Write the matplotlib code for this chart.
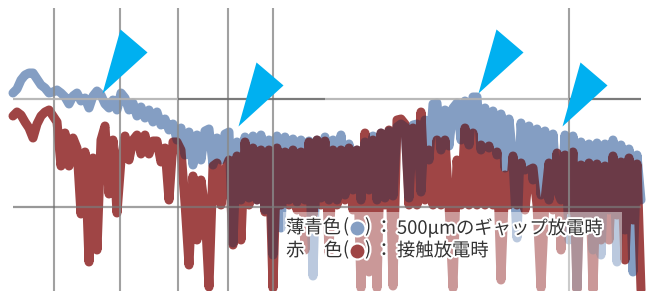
import numpy as np
import matplotlib
matplotlib.use("Agg")
import matplotlib.pyplot as plt
from matplotlib.path import Path
from matplotlib.patches import Rectangle
import matplotlib.patheffects as pe

# ---------------- data (level, larger = lower on screen) ----
freq = np.arange(13, 642, 4)

blue_level = [
    93, 89, 80, 75, 73, 73, 79, 85, 88, 93,
    92, 90, 93, 97, 104, 96, 93, 101, 98, 108,
    96, 91, 95, 104, 108, 100, 110, 93, 98, 110,
    103, 116, 107, 118, 110, 122, 112, 125, 119, 130,
    124, 140, 128, 155, 132, 165, 135, 160, 131, 129,
    165, 138, 160, 134, 132, 243, 142, 200, 137, 198,
    136, 200, 135, 210, 140, 255, 136, 228, 137, 200,
    139, 202, 140, 200, 141, 276, 140, 198, 137, 200,
    140, 200, 135, 195, 144, 190, 150, 200, 142, 190,
    136, 200, 133, 198, 131, 196, 127, 124, 127, 198,
    125, 124, 192, 120, 160, 104, 103, 150, 110, 146,
    108, 103, 140, 101, 145, 97, 97, 150, 108, 148,
    111, 155, 114, 168, 119, 160, 238, 123, 170, 126,
    180, 129, 195, 131, 200, 134, 190, 200, 135, 240,
    136, 288, 142, 230, 144, 250, 143, 255, 144, 210,
    140, 262, 145, 230, 149, 272, 155, 200,
]

red_level = [
    116, 112, 115, 122, 128, 138, 124, 116, 112, 110,
    116, 122, 166, 133, 166, 138, 148, 214, 152, 262,
    158, 250, 140, 126, 194, 140, 213, 160, 136, 160,
    140, 135, 154, 135, 154, 141, 141, 162, 148, 200,
    142, 142, 150, 203, 265, 176, 240, 180, 210, 287,
    166, 163, 205, 170, 160, 245, 156, 240, 142, 205,
    148, 200, 150, 212, 150, 288, 148, 205, 152, 205,
    150, 210, 152, 250, 142, 215, 140, 205, 141, 253,
    150, 205, 150, 200, 148, 210, 150, 288, 133, 272,
    140, 288, 133, 205, 130, 286, 120, 119, 124, 205,
    128, 205, 112, 200, 150, 205, 140, 205, 140, 205,
    288, 160, 205, 128, 205, 133, 205, 145, 205, 146,
    205, 152, 280, 175, 205, 156, 205, 163, 210, 170,
    168, 205, 288, 200, 163, 210, 153, 250, 155, 210,
    152, 290, 165, 220, 163, 290, 164, 240, 166, 240,
    156, 215, 162, 260, 158, 220, 164, 290,
]

# peak markers (arrow tips)
arrow_freq = [102, 238, 478, 562]
arrow_level = [93, 126, 93, 126]

# grid
vgrid_freq = [54, 120, 178, 228, 273, 569]
hgrid_top = [(13, 178, "#b2b2b2"), (178, 325, "#6c6c6c"), (325, 569, "#b2b2b2"), (569, 641, "#6c6c6c")]
hgrid_bottom = [(13, 55, "#6c6c6c"), (55, 641, "#7a7a7a")]
hgrid_levels = [99, 207]

legend_lines = [
    ("薄青色", None, "500μmのギャップ放電時"),
    ("赤", "色", "接触放電時"),
]

BLUE = "#849ec3"
RED = "#9f4545"
MAROON = "#6b3a47"
CYAN = "#00b0f0"

# ---------------- overlap colouring for the red line ----------------
def _nonzero_slices(a):
    xs, = a.any(axis=0).nonzero()
    ys, = a.any(axis=1).nonzero()
    if len(xs) and len(ys):
        return slice(ys[0], ys[-1] + 1), slice(xs[0], xs[-1] + 1)
    return slice(0, 0), slice(0, 0)


def overlap_tint(line, under_hex, over_hex):
    under = np.array(matplotlib.colors.to_rgb(under_hex))
    over = np.array(matplotlib.colors.to_rgb(over_hex))
    orig_draw = line.draw

    def draw(renderer):
        if not (hasattr(renderer, "start_filter") and hasattr(renderer, "buffer_rgba")):
            return orig_draw(renderer)
        renderer.start_filter()
        orig_draw(renderer)
        layer = np.asarray(renderer.buffer_rgba())
        sy, sx = _nonzero_slices(layer[..., 3])

        def post(img, dpi):
            base = np.asarray(renderer.buffer_rgba())[sy, sx, :3].astype(float) / 255.0
            d = 1.0 - base
            ref = 1.0 - under
            t = np.clip((d * ref).sum(-1) / (ref * ref).sum(), 0, 1)[..., None]
            out = img.copy()
            out[..., :3] = (1 - t) * img[..., :3] + t * over
            return out, 0, 0

        renderer.stop_filter(post)

    line.draw = draw


# ---------------- figure ----------------
fig = plt.figure(figsize=(6.5, 2.91), dpi=100)
ax = fig.add_axes([0, 0, 1, 1])
ax.set_xlim(0, 650)
ax.set_ylim(291, 0)
ax.axis("off")

lw = 6.5
ax.plot(freq, blue_level, color=BLUE, lw=lw, solid_joinstyle="round",
        solid_capstyle="round", zorder=2)
red_line, = ax.plot(freq, red_level, color=RED, lw=lw, solid_joinstyle="round",
                    solid_capstyle="round", zorder=3)
overlap_tint(red_line, BLUE, MAROON)

# grid on top (semi transparent)
for xv in vgrid_freq:
    ax.plot([xv, xv], [8, 291], color="#8a8a8a", lw=1.5, alpha=0.8, zorder=4,
            solid_capstyle="butt")
for (x0, x1, c) in hgrid_top:
    ax.plot([x0, x1], [hgrid_levels[0]] * 2, color=c, lw=1.6, alpha=0.9, zorder=4,
            solid_capstyle="butt")
for (x0, x1, c) in hgrid_bottom:
    ax.plot([x0, x1], [hgrid_levels[1]] * 2, color=c, lw=1.6, alpha=0.7, zorder=4,
            solid_capstyle="butt")

# peak arrows
tri = Path([(0, 0), (18, 64), (45, 41), (0, 0)],
           [Path.MOVETO, Path.LINETO, Path.LINETO, Path.CLOSEPOLY])
ax.plot(arrow_freq, arrow_level, linestyle="none", marker=tri, markersize=92.2,
        markerfacecolor=CYAN, markeredgecolor="none", zorder=5)

# legend box
ax.add_patch(Rectangle((283, 212), 339, 82, facecolor="white", alpha=0.45,
                       edgecolor="none", zorder=6))

fam = ["Noto Sans CJK JP", "DejaVu Sans"]
halo = [pe.withStroke(linewidth=3, foreground="white")]
tkw = dict(fontsize=13.2, color="#333333", family=fam, va="center",
           path_effects=halo, zorder=8)
rows_y = [228, 251]
dot_colors = [BLUE, RED]
for (lab, lab2, desc), yy, dc in zip(legend_lines, rows_y, dot_colors):
    ax.text(286, yy, lab, ha="left", **tkw)
    if lab2:
        ax.text(324, yy, lab2, ha="left", **tkw)
    ax.text(346, yy - 1, "(", ha="center", **tkw)
    ax.text(368, yy - 1, ")", ha="center", **tkw)
    ax.text(384, yy, "：", ha="center", **tkw)
    ax.text(397, yy, desc, ha="left", **tkw)
    ax.plot([357], [yy], marker="o", markersize=11.5, markerfacecolor=dc,
            markeredgecolor="white", markeredgewidth=1.5, zorder=7)

fig.savefig("out.png", dpi=100)
